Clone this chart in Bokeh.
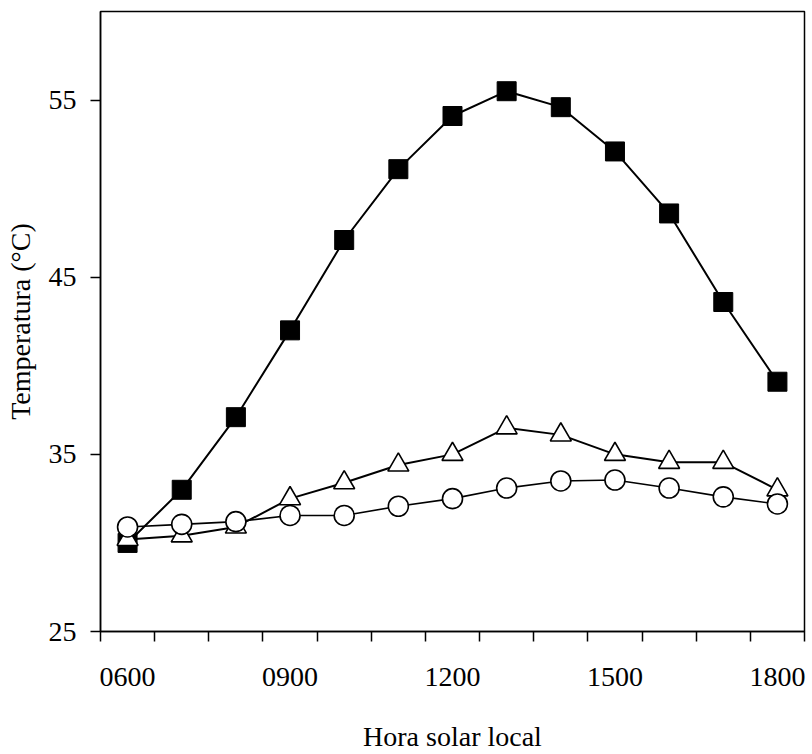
from bokeh.plotting import figure
from bokeh.models import FixedTicker, Range1d
from bokeh.embed import file_html
from bokeh.resources import INLINE

# Data
hours = [6, 7, 8, 9, 10, 11, 12, 13, 14, 15, 16, 17, 18]
hour_labels = ["0600", "0900", "1200", "1500", "1800"]
labelled_hours = [6, 9, 12, 15, 18]
y_ticks = [25, 35, 45, 55]

black_squares = [30.0, 33.0, 37.1, 42.0, 47.1, 51.1, 54.1, 55.5, 54.6, 52.1, 48.6, 43.6, 39.1]
open_triangles = [30.2, 30.4, 30.9, 32.5, 33.4, 34.4, 35.0, 36.5, 36.1, 35.0, 34.55, 34.55, 33.0]
open_circles = [30.9, 31.05, 31.2, 31.55, 31.55, 32.07, 32.5, 33.1, 33.5, 33.55, 33.1, 32.6, 32.2]

FONT = "Liberation Serif"
FS = "28px"

p = figure(width=812, height=754,
           x_range=Range1d(hours[0] - 0.5, hours[-1] + 0.5),
           y_range=Range1d(25, 60),
           output_backend="svg", toolbar_location=None,
           min_border_left=100, min_border_top=11,
           min_border_right=8, min_border_bottom=123)

p.grid.visible = False
p.outline_line_color = "black"
p.outline_line_width = 1.5
p.outline_line_alpha = 1.0
p.background_fill_color = "white"
p.border_fill_color = "white"

# X axis
xa = p.xaxis[0]
xa.ticker = FixedTicker(ticks=labelled_hours,
                        minor_ticks=[h - 0.5 for h in hours] + [hours[-1] + 0.5])
xa.major_label_overrides = {h: lab for h, lab in zip(labelled_hours, hour_labels)}
xa.major_tick_out = 0
xa.major_tick_in = 0
xa.minor_tick_out = 10
xa.minor_tick_in = 0
xa.minor_tick_line_width = 1.5
xa.axis_label = "Hora solar local"
xa.major_label_standoff = 26
xa.axis_label_standoff = 32

# Y axis
ya = p.yaxis[0]
ya.ticker = FixedTicker(ticks=y_ticks, minor_ticks=[])
ya.major_tick_out = 10
ya.major_tick_in = 0
ya.major_tick_line_width = 1.5
ya.axis_label = "Temperatura (°C)"
ya.major_label_standoff = 14
ya.axis_label_standoff = 10

for ax in (xa, ya):
    ax.axis_line_width = 1.5
    ax.axis_line_color = "black"
    ax.major_label_text_font = FONT
    ax.major_label_text_font_size = FS
    ax.major_label_text_color = "black"
    ax.axis_label_text_font = FONT
    ax.axis_label_text_font_size = FS
    ax.axis_label_text_font_style = "normal"
    ax.axis_label_text_color = "black"

# Series
p.line(hours, black_squares, line_color="black", line_width=2)
p.scatter(hours, black_squares, marker="square", size=19,
          fill_color="black", line_color="black", line_width=1)

p.line(hours, open_triangles, line_color="black", line_width=2)
p.scatter(hours, open_triangles, marker="triangle", size=21,
          fill_color="white", line_color="black", line_width=1.6)

p.line(hours, open_circles, line_color="black", line_width=1.6)
p.scatter(hours, open_circles, marker="circle", size=20,
          fill_color="white", line_color="black", line_width=1.6)

open("out.html", "w").write(file_html(p, INLINE))
